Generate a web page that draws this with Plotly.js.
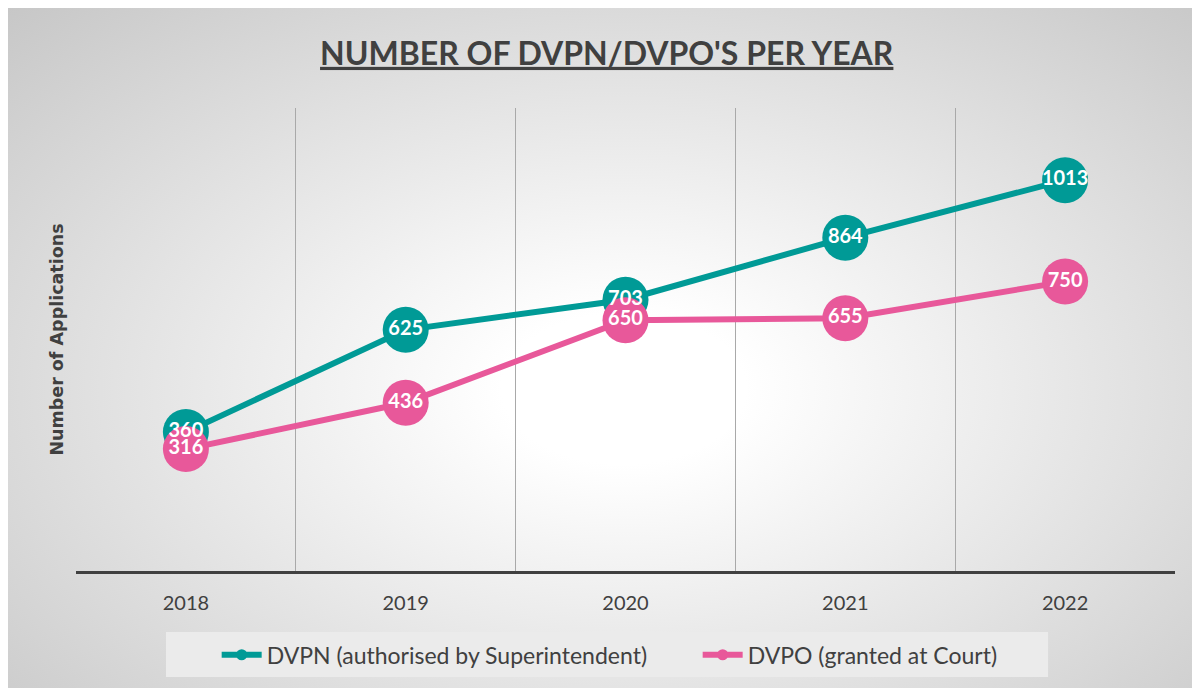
<!DOCTYPE html>
<html>
<head>
<meta charset="utf-8">
<script src="https://cdn.plot.ly/plotly-3.0.1.min.js"></script>
<style>
  html, body { margin: 0; padding: 0; background: #ffffff; }
  #wrap { position: relative; width: 1192px; height: 688px; background: #ffffff; overflow: hidden; }
  #bg { position: absolute; left: 8px; top: 8px; width: 1184px; height: 680px;
        background: radial-gradient(ellipse farthest-corner at 52% 56%, #ffffff 0%, #ffffff 14%, #c7c7c7 100%); }
  #chart { position: absolute; left: 0; top: 0; width: 1192px; height: 688px; }
</style>
</head>
<body>
<div id="wrap"><div id="bg"></div><div id="chart"></div></div>
<script>
const years = ['2018', '2019', '2020', '2021', '2022'];
const dvpn = [360, 625, 703, 864, 1013];
const dvpo = [316, 436, 650, 655, 750];
const seriesNames = ['DVPN (authorised by Superintendent)', 'DVPO (granted at Court)'];
const gridPositions = [-0.5, 0.5, 1.5, 2.5, 3.5, 4.5];

const teal = '#009a96';
const pink = '#e8589a';
const ink = '#404040';
const xIdx = years.map((_, i) => i);
const labelFont = { family: 'Lato', size: 20, color: '#ffffff', weight: 'bold' };

const traces = [
  { x: xIdx, y: dvpn, type: 'scatter', mode: 'lines+markers', showlegend: false,
    line: { color: teal, width: 6 }, marker: { color: teal, size: 46 }, hoverinfo: 'y' },
  { x: xIdx, y: dvpo, type: 'scatter', mode: 'lines+markers', showlegend: false,
    line: { color: pink, width: 6 }, marker: { color: pink, size: 46 }, hoverinfo: 'y' },
  { x: xIdx, y: dvpn, type: 'scatter', mode: 'text', showlegend: false, hoverinfo: 'skip',
    text: dvpn.map(String), textposition: 'middle center', textfont: labelFont },
  { x: xIdx, y: dvpo, type: 'scatter', mode: 'text', showlegend: false, hoverinfo: 'skip',
    text: dvpo.map(String), textposition: 'middle center', textfont: labelFont },
  { x: [null], y: [null], type: 'scatter', mode: 'lines+markers', name: seriesNames[0],
    line: { color: teal, width: 6 }, marker: { color: teal, size: 11 } },
  { x: [null], y: [null], type: 'scatter', mode: 'lines+markers', name: seriesNames[1],
    line: { color: pink, width: 6 }, marker: { color: pink, size: 11 } },
  { x: [0], y: [0], xaxis: 'x2', type: 'scatter', mode: 'markers',
    marker: { opacity: 0 }, showlegend: false, hoverinfo: 'skip' }
];

const layout = {
  width: 1192, height: 688,
  margin: { l: 76, r: 17, t: 108, b: 117, autoexpand: false },
  paper_bgcolor: 'rgba(0,0,0,0)',
  plot_bgcolor: 'rgba(0,0,0,0)',
  font: { family: 'Lato', color: ink },
  title: {
    text: "NUMBER OF DVPN/DVPO'S PER YEAR",
    font: { family: 'Lato', size: 32, color: ink, weight: 'bold', lineposition: 'under' },
    xref: 'container', x: 0.509, xanchor: 'center',
    yref: 'container', y: 0.922, yanchor: 'middle'
  },
  xaxis: {
    range: [-0.5, 4.5], tickmode: 'array', tickvals: xIdx, ticktext: years,
    showgrid: false, zeroline: false, ticks: '', ticklabelstandoff: 12,
    showline: true, linecolor: ink, linewidth: 3,
    tickfont: { family: 'Lato', size: 20, color: ink }, fixedrange: true
  },
  xaxis2: {
    overlaying: 'x', range: [-0.5, 4.5], tickmode: 'array', tickvals: gridPositions,
    showticklabels: false, showgrid: true, gridcolor: '#a9a9a9', gridwidth: 1,
    zeroline: false, showline: false, ticks: '', matches: 'x'
  },
  yaxis: {
    range: [0, 1200], showgrid: false, zeroline: false, showticklabels: false,
    ticks: '', showline: false, fixedrange: true,
    title: { text: 'Number of Applications', standoff: 6,
             font: { family: 'DejaVu Sans', size: 17.5, color: ink, weight: 'bold' } }
  },
  showlegend: true,
  legend: {
    orientation: 'h', xref: 'paper', yref: 'paper',
    x: 0.128, xanchor: 'left', y: -0.181, yanchor: 'middle',
    bgcolor: 'rgba(0,0,0,0)', font: { family: 'Lato', size: 23, color: ink },
    itemwidth: 40, traceorder: 'normal', entrywidth: 426, entrywidthmode: 'pixels'
  },
  shapes: [{
    type: 'rect', xref: 'paper', yref: 'paper', layer: 'below',
    x0: 0.0819, x1: 0.8845, y0: -0.2289, y1: -0.1318,
    fillcolor: '#ebebeb', line: { width: 0 }
  }]
};

Plotly.newPlot('chart', traces, layout, { displayModeBar: false, staticPlot: true });
</script>
</body>
</html>
